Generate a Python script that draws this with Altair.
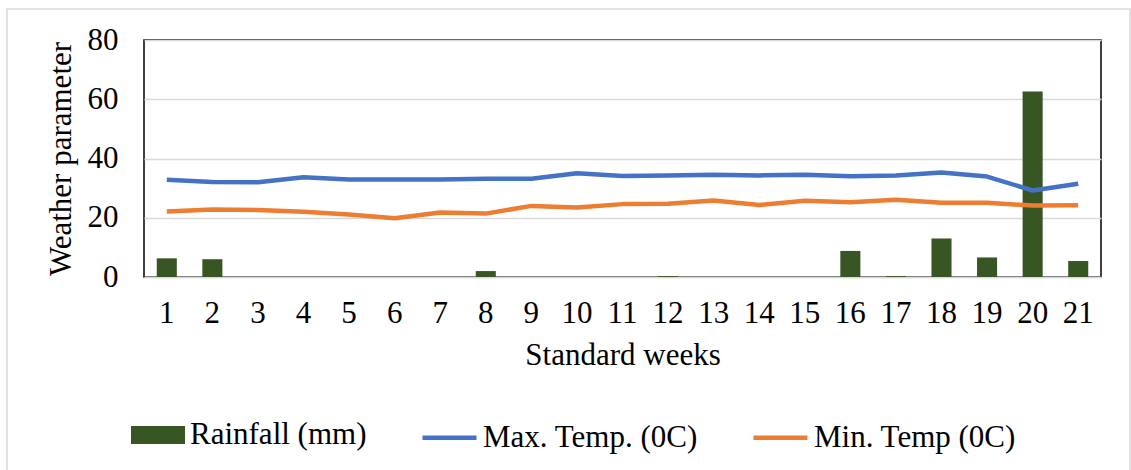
import altair as alt
import pandas as pd

weeks = list(range(1, 22))
rainfall = [6.3, 6.0, 0, 0, 0, 0, 0, 2.0, 0, 0, 0, 0.3, 0, 0, 0, 8.8, 0.3, 13.0, 6.6, 62.6, 5.4]
max_temp = [32.8, 32.1, 32.0, 33.7, 32.9, 32.9, 32.9, 33.2, 33.2, 35.0, 34.1, 34.3, 34.5, 34.3, 34.5, 34.0, 34.3, 35.3, 33.9, 29.2, 31.5]
min_temp = [22.1, 22.8, 22.6, 22.0, 21.1, 19.8, 21.8, 21.4, 24.0, 23.5, 24.6, 24.7, 25.8, 24.3, 25.7, 25.2, 26.1, 25.1, 25.1, 24.1, 24.2]

rain_label = "Rainfall (mm)"
max_label = "Max. Temp. (0C)"
min_label = "Min. Temp (0C)"

FONT = "'Liberation Serif', 'Times New Roman', 'DejaVu Serif', serif"
GREEN = "#375623"
BLUE = "#4472C4"
ORANGE = "#ED7D31"
GRID = "#D9D9D9"

rain_df = pd.DataFrame({"week": weeks, "value": rainfall, "series": rain_label})
temp_df = pd.concat([
    pd.DataFrame({"week": weeks, "value": max_temp, "series": max_label}),
    pd.DataFrame({"week": weeks, "value": min_temp, "series": min_label}),
])

x_enc = alt.X(
    "week:O",
    scale=alt.Scale(paddingInner=0.56, paddingOuter=0.28),
    axis=alt.Axis(
        title="Standard weeks", labelAngle=0, ticks=False, grid=False,
        domainColor=GRID, domainWidth=1.5, labelPadding=21, titlePadding=12,
    ),
)
y_scale = alt.Scale(domain=[0, 80])
y_axis = alt.Axis(
    title="Weather parameter", values=[0, 20, 40, 60, 80], ticks=False,
    domain=False, gridColor=GRID, gridWidth=1.5, labelPadding=26, titlePadding=10,
)

bars = alt.Chart(rain_df).mark_bar().encode(
    x=x_enc,
    y=alt.Y("value:Q", scale=y_scale, axis=y_axis),
    fill=alt.Fill(
        "series:N",
        scale=alt.Scale(domain=[rain_label], range=[GREEN]),
        legend=alt.Legend(
            title=None, orient="none", legendX=-13, legendY=368, padding=0,
            symbolType="M-1,-0.333H1V0.333H-1Z", symbolSize=2916,
            symbolOpacity=1, symbolStrokeWidth=0, labelOffset=5,
        ),
    ),
)

lines = alt.Chart(temp_df).mark_line(strokeWidth=4.5, strokeJoin="round").encode(
    x=alt.X("week:O"),
    y=alt.Y("value:Q", scale=y_scale),
    stroke=alt.Stroke(
        "series:N",
        scale=alt.Scale(domain=[max_label, min_label], range=[BLUE, ORANGE]),
        legend=alt.Legend(
            title=None, orient="none", direction="horizontal", legendX=276, legendY=368,
            padding=0, symbolType="stroke", symbolSize=2916, symbolStrokeWidth=4.5,
            labelOffset=4, columnPadding=46,
        ),
    ),
)

frame = alt.Chart(pd.DataFrame({"k": [0]})).mark_rect(
    fillOpacity=0, stroke=GRID, strokeWidth=1.5
).encode(
    x=alt.value(-137), x2=alt.value(986), y=alt.value(-31), y2=alt.value(440)
)

chart = alt.layer(frame, bars, lines).resolve_scale(
    fill="independent", stroke="independent"
).properties(
    width=957, height=237,
    autosize=alt.AutoSizeParams(type="none"),
    padding={"left": 144, "top": 40, "right": 30, "bottom": 193},
    background="white",
).configure_view(
    stroke="black", strokeWidth=1.5
).configure_axis(
    labelFont=FONT, titleFont=FONT, labelFontSize=31, titleFontSize=31,
    labelColor="black", titleColor="black", titleFontWeight="normal",
).configure_legend(
    labelFont=FONT, labelFontSize=31, labelColor="black", labelLimit=400,
)

chart.save("out.html", embed_options={"renderer": "svg", "actions": False})
